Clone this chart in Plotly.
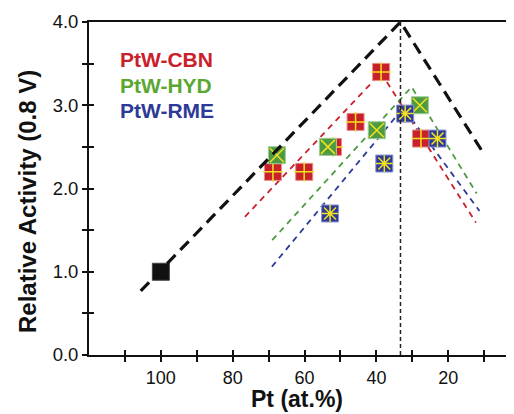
import plotly.graph_objects as go

# ---- data ----
cbn_x = [68.8, 60.1, 52.1, 45.8, 38.7, 27.6]
cbn_y = [2.2, 2.2, 2.5, 2.8, 3.4, 2.6]
hyd_x = [67.7, 53.5, 39.9, 27.9]
hyd_y = [2.4, 2.5, 2.7, 3.0]
rme_x = [52.9, 37.8, 32.0, 23.0]
rme_y = [1.7, 2.3, 2.9, 2.6]
pt_x = [100]
pt_y = [1.0]

# guide (dashed) lines
black_line_x = [105.6, 33.3, 10.3]
black_line_y = [0.77, 4.0, 2.43]
cbn_line_x = [76.6, 38.7, 12.3]
cbn_line_y = [1.66, 3.39, 1.59]
hyd_line_x = [69.0, 30.2, 12.1]
hyd_line_y = [1.38, 3.22, 1.94]
rme_line_x = [69.1, 32.5, 11.3]
rme_line_y = [1.06, 2.97, 1.73]
vline_x = 33.3

x_tickvals = [110, 100, 90, 80, 70, 60, 50, 40, 30, 20, 10]
x_ticktext = ["", "100", "", "80", "", "60", "", "40", "", "20", ""]
y_tickvals = [0, 0.5, 1, 1.5, 2, 2.5, 3, 3.5, 4]
y_ticktext = ["0.0", "", "1.0", "", "2.0", "", "3.0", "", "4.0"]

series = ["PtW-CBN", "PtW-HYD", "PtW-RME"]

RED = "#c9202a"
GREEN = "#4e9a43"
BLUE = "#2e3a97"
YEL = "#f2e41c"
FONT = "Liberation Sans"

fig = go.Figure()

# colored dashed lines
for lx, ly, c in [(cbn_line_x, cbn_line_y, RED), (hyd_line_x, hyd_line_y, GREEN),
                  (rme_line_x, rme_line_y, BLUE)]:
    fig.add_trace(go.Scatter(x=lx, y=ly, mode="lines",
                             line=dict(color=c, width=1.8, dash="6px,5px"),
                             hoverinfo="skip"))

# markers
for mx, my, c, edge, sym in [(cbn_x, cbn_y, RED, "#e88a8a", "cross-thin"),
                             (hyd_x, hyd_y, GREEN, "#9fcf95", "x-thin"),
                             (rme_x, rme_y, BLUE, "#8a93d6", "asterisk")]:
    fig.add_trace(go.Scatter(x=mx, y=my, mode="markers",
                             marker=dict(symbol="square", size=17, color=c,
                                         line=dict(color=edge, width=1))))
    fig.add_trace(go.Scatter(x=mx, y=my, mode="markers",
                             marker=dict(symbol=sym, size=14, color=YEL,
                                         line=dict(color=YEL, width=1.5))))

fig.add_trace(go.Scatter(x=pt_x, y=pt_y, mode="markers",
                         marker=dict(symbol="square", size=17, color="#111111",
                                     line=dict(color="#444444", width=1))))

# black dashed triangle
fig.add_trace(go.Scatter(x=black_line_x, y=black_line_y, mode="lines",
                         line=dict(color="#111111", width=3.2, dash="12px,7px")))
# vertical dotted line
fig.add_trace(go.Scatter(x=[vline_x, vline_x], y=[0, 4.0], mode="lines",
                         line=dict(color="#222222", width=1.5, dash="4px,3px")))

# legend-like texts
for name, c, yv in zip(series, [RED, "#5aa832", BLUE], [3.545, 3.233, 2.933]):
    fig.add_annotation(x=111.8, y=yv, xref="x", yref="y", text=f"<b>{name}</b>",
                       showarrow=False, xanchor="left", yanchor="middle",
                       font=dict(family=FONT, size=21, color=c))

fig.add_annotation(x=-0.143, y=0.46, xref="paper", yref="paper",
                   text="<b>Relative Activity (0.8 V)</b>", textangle=-90,
                   showarrow=False, xanchor="center", yanchor="middle",
                   font=dict(family=FONT, size=24, color="#111111"))
fig.add_annotation(x=0.49, y=-0.174, xref="paper", yref="paper",
                   text="<b>Pt (at.%)</b>", showarrow=False,
                   xanchor="center", yanchor="bottom", borderpad=0,
                   font=dict(family=FONT, size=23, color="#111111"))

axis_common = dict(showgrid=False, zeroline=False)
# page body adds an 8px offset, so the figure is 8px smaller on each axis
fig.update_layout(
    width=506, height=406,
    margin=dict(l=81, r=0, t=14, b=58.7),
    paper_bgcolor="white", plot_bgcolor="white",
    showlegend=False,
    xaxis=dict(range=[120, 1.7], tickvals=x_tickvals, ticktext=x_ticktext,
               ticks="outside", ticklen=5, tickwidth=1.5, tickcolor="#111111",
               showline=True, linecolor="#111111", linewidth=1.8, mirror=True,
               tickfont=dict(family=FONT, size=18, color="#111111"),
               **axis_common),
    yaxis=dict(range=[0, 4.0], tickvals=y_tickvals, ticktext=y_ticktext,
               ticks="outside", ticklen=5, tickwidth=1.5, tickcolor="#111111",
               showline=True, linecolor="#111111", linewidth=1.8,
               tickfont=dict(family=FONT, size=18.5, color="#111111"),
               **axis_common),
    xaxis2=dict(range=[120, 1.7], overlaying="x", tickvals=x_tickvals,
                ticktext=[""] * len(x_tickvals), ticks="inside", ticklen=5,
                tickwidth=1.5, tickcolor="#111111", showline=False,
                side="bottom", **axis_common),
    yaxis2=dict(range=[0, 4.0], overlaying="y", tickvals=y_tickvals,
                ticktext=[""] * len(y_tickvals), ticks="inside", ticklen=5,
                tickwidth=1.5, tickcolor="#111111", showline=False,
                side="left", **axis_common),
)
# dummy trace to activate overlay axes
fig.add_trace(go.Scatter(x=[None], y=[None], xaxis="x2", yaxis="y2",
                         hoverinfo="skip", showlegend=False))

fig.write_html("out.html")
